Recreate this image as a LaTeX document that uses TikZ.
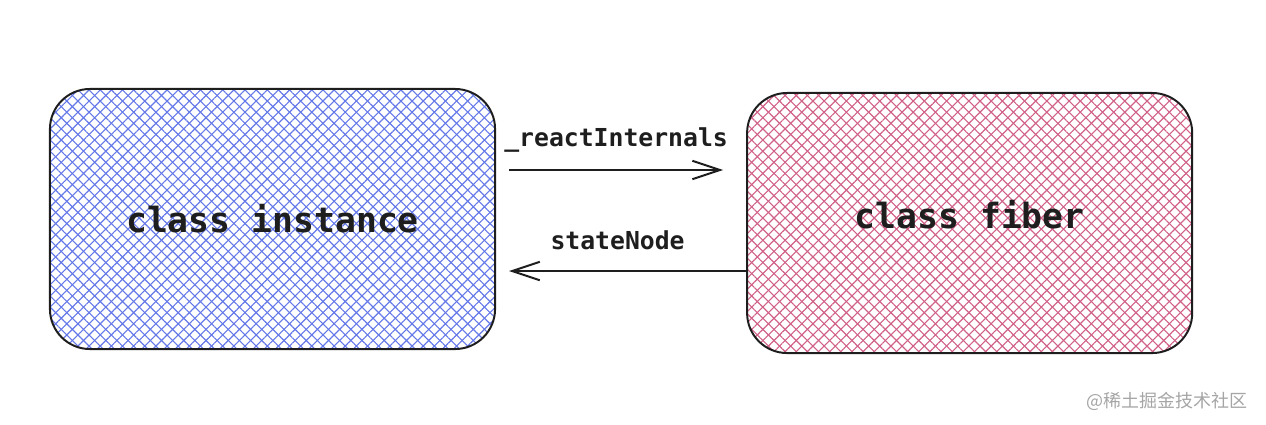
\documentclass[tikz,border=0pt]{standalone}
\usepackage{fontspec}
\setmonofont{DejaVu Sans Mono}
\newfontfamily\cjk{Noto Sans CJK SC}
\usepackage{tikz}
\usetikzlibrary{arrows.meta,positioning,patterns.meta}
\definecolor{inkblack}{RGB}{30,30,30}
\definecolor{hatchblue}{RGB}{100,120,232}
\definecolor{hatchred}{RGB}{208,96,136}
\definecolor{markgray}{RGB}{165,165,165}

\begin{document}
\begin{tikzpicture}[
  x=0.025cm, y=-0.025cm,
  box/.style={rectangle,rounded corners=1cm,draw=inkblack,line width=1.4pt,
    minimum width=11.125cm,minimum height=6.5cm,
    font=\fontsize{24.7}{28}\selectfont\ttfamily\bfseries,text=inkblack,inner sep=0pt},
  hatch/.style={
    preaction={pattern={Lines[angle=45,distance=5.6pt,line width=0.8pt]},pattern color=#1},
    preaction={pattern={Lines[angle=-45,distance=5.6pt,line width=0.8pt]},pattern color=#1}},
  arrow/.style={-{Straight Barb[length=0.69cm,width=0.46cm]},color=inkblack,line width=1.4pt},
  lbl/.style={font=\fontsize{17.6}{20}\selectfont\ttfamily\bfseries,text=inkblack}
]
  \useasboundingbox (0,0) rectangle (1266,424);

  \node[box,hatch=hatchblue] (inst) at (272.5,219) {class instance};
  \node[box,hatch=hatchred,right=6.25cm of inst,yshift=-0.1cm,text depth=12.8pt] (fiber) {class fiber};

  \coordinate (reactA) at ([xshift=0.325cm,yshift=1.225cm]inst.east);
  \coordinate (reactB) at ([xshift=-0.575cm,yshift=1.325cm]fiber.west);
  \coordinate (stateA) at ([yshift=-1.2cm]fiber.west);
  \coordinate (stateB) at ([xshift=0.325cm,yshift=-1.3cm]inst.east);

  \draw[arrow] (reactA) -- (reactB) node[lbl,midway,yshift=0.75cm] (reactlbl) {\_reactInternals};
  \draw[arrow] (stateA) -- (stateB) node[lbl,midway,yshift=0.775cm,xshift=-0.25cm] (statelbl) {stateNode};

  \node[anchor=east,text=markgray,font=\cjk\fontsize{12.8}{14}\selectfont] (mark) at (1252,401) {@稀土掘金技术社区};
\end{tikzpicture}
\end{document}
